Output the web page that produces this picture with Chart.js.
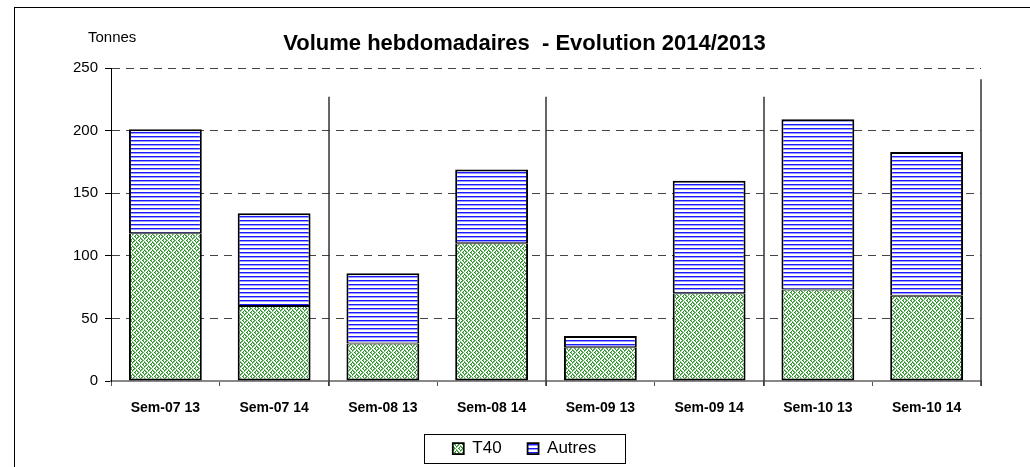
<!DOCTYPE html>
<html>
<head>
<meta charset="utf-8">
<script src="https://cdn.jsdelivr.net/npm/chart.js@4.4.0/dist/chart.umd.min.js"></script>
<style>
  html, body { margin: 0; padding: 0; background: #fff; overflow: hidden; }
  #frame { position: absolute; left: 14px; top: 7px; width: 2000px; height: 2000px; border: 1px solid #000; }
  #wrap { position: absolute; left: 0; top: 0; width: 1030px; height: 467px; }
</style>
</head>
<body>
<div id="frame"></div>
<div id="wrap"><canvas id="chart" width="1030" height="467"></canvas></div>
<script>
// weekly volumes, tonnes
const categories = ["Sem-07 13", "Sem-07 14", "Sem-08 13", "Sem-08 14", "Sem-09 13", "Sem-09 14", "Sem-10 13", "Sem-10 14"];
const t40 = [118, 60, 30, 110, 27, 70, 73, 68];
const autres = [83, 74, 56, 59, 9, 90, 136, 115];
const yMax = 250;
const yStep = 50;

const FONT = "'Liberation Sans', Arial, sans-serif";

// blue narrow horizontal stripes
function stripePattern() {
  const c = document.createElement("canvas");
  c.width = 4; c.height = 4;
  const g = c.getContext("2d");
  g.fillStyle = "#fff"; g.fillRect(0, 0, 4, 4);
  g.fillStyle = "#1a1aff"; g.fillRect(0, 0, 4, 1);
  g.fillStyle = "#9a9aff"; g.fillRect(0, 1, 4, 1);
  return g.createPattern(c, "repeat");
}

// green weave / herringbone
function weavePattern() {
  const c = document.createElement("canvas");
  c.width = 8; c.height = 8;
  const g = c.getContext("2d");
  for (let y = 0; y < 8; y++) {
    for (let x = 0; x < 8; x++) {
      const dir = (Math.floor(x / 4) + Math.floor(y / 4)) % 2;
      const k = dir ? (x + y) % 4 : (x - y + 8) % 4;
      let col;
      if (k === 0 || k === 1) col = "#ffffff";
      else col = (x + y) % 2 ? "#6fbf6f" : "#2e8b2e";
      g.fillStyle = col;
      g.fillRect(x, y, 1, 1);
    }
  }
  return g.createPattern(c, "repeat");
}

const ctx = document.getElementById("chart").getContext("2d");

const extras = {
  id: "extras",
  beforeDatasetsDraw(chart) {
    // vertical separators every two weeks
    const { ctx, chartArea, scales } = chart;
    const x = scales.x, y = scales.y;
    ctx.save();
    ctx.strokeStyle = "#333";
    ctx.lineWidth = 1.5;
    for (let i = 1; i < categories.length / 2; i++) {
      const px = Math.round((x.getPixelForValue(2 * i - 1) + x.getPixelForValue(2 * i)) / 2);
      ctx.beginPath();
      ctx.moveTo(px, y.getPixelForValue(227));
      ctx.lineTo(px, chartArea.bottom + 5);
      ctx.stroke();
    }
    ctx.beginPath();
    ctx.moveTo(chartArea.right, y.getPixelForValue(241));
    ctx.lineTo(chartArea.right, chartArea.bottom + 5);
    ctx.stroke();
    ctx.restore();
  },
  afterDraw(chart) {
    const { ctx } = chart;
    ctx.save();
    ctx.fillStyle = "#000";
    ctx.font = "15px " + FONT;
    ctx.textBaseline = "middle";
    ctx.textAlign = "left";
    ctx.fillText("Tonnes", 88, 38);
    // box round the legend
    const hb = chart.legend.legendHitBoxes;
    if (hb && hb.length) {
      const left = Math.min(...hb.map(h => h.left));
      const right = Math.max(...hb.map(h => h.left + h.width));
      const cx = (left + right) / 2;
      const cy = hb[0].top + hb[0].height / 2;
      ctx.strokeStyle = "#000";
      ctx.lineWidth = 1;
      ctx.strokeRect(Math.round(cx - 100.5) + 0.5, Math.round(cy - 14.5) + 0.5, 201, 29);
    }
    ctx.restore();
  }
};

new Chart(ctx, {
  type: "bar",
  data: {
    labels: categories,
    datasets: [
      {
        label: "T40",
        data: t40,
        backgroundColor: weavePattern(),
        borderColor: "#000",
        borderWidth: { top: 1, left: 2, right: 2, bottom: 2 },
        borderSkipped: false
      },
      {
        label: "Autres",
        data: autres,
        backgroundColor: stripePattern(),
        borderColor: "#000",
        borderWidth: { top: 2, left: 2, right: 2, bottom: 1 },
        borderSkipped: false
      }
    ]
  },
  options: {
    responsive: false,
    animation: false,
    devicePixelRatio: 1,
    layout: { padding: { left: 68, right: 49, top: 31, bottom: 0 } },
    datasets: { bar: { categoryPercentage: 1, barPercentage: 0.67 } },
    plugins: {
      title: {
        display: true,
        text: "Volume hebdomadaires  - Evolution 2014/2013",
        color: "#000",
        font: { family: FONT, size: 22, weight: "bold" },
        padding: { top: 0, bottom: 10.6 }
      },
      legend: {
        position: "bottom",
        labels: {
          color: "#000",
          font: { family: FONT, size: 17 },
          boxWidth: 11,
          boxHeight: 11,
          padding: 26
        }
      },
      tooltip: { enabled: false }
    },
    scales: {
      x: {
        stacked: true,
        grid: { offset: true, drawOnChartArea: false, drawTicks: true, tickLength: 5, tickColor: "#555" },
        border: { color: "#888", width: 2 },
        ticks: { color: "#000", font: { family: FONT, size: 14, weight: "bold" }, padding: 14, maxRotation: 0, autoSkip: false },
        afterFit(s) { s.height = 33; }
      },
      y: {
        stacked: true,
        min: 0,
        max: yMax,
        grid: { color: "#444", lineWidth: 1, tickLength: 6, tickColor: "#000", tickBorderDash: [] },
        border: { color: "#000", width: 1, dash: [8, 6] },
        ticks: { stepSize: yStep, color: "#000", font: { family: FONT, size: 15 }, padding: 7 },
        afterFit(s) { s.width = 43; }
      }
    }
  },
  plugins: [extras]
});
</script>
</body>
</html>
